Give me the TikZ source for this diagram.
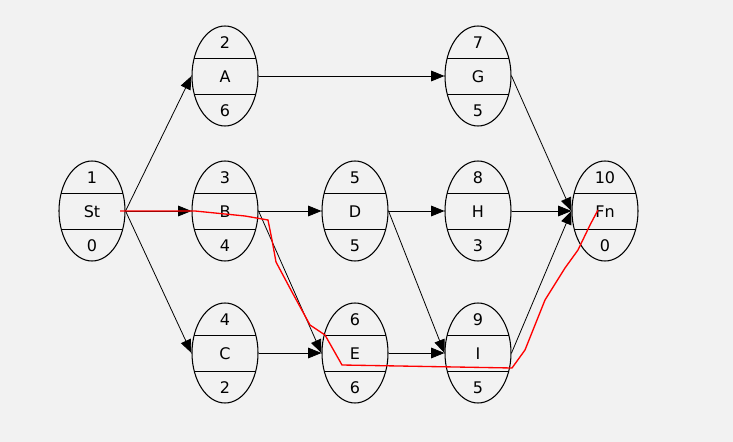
\documentclass[tikz,border=0pt]{standalone}
\usepackage{fontspec}
\setmainfont{DejaVu Sans}
\usetikzlibrary{shapes.geometric,arrows.meta,calc}
\newcommand\pnd[5]{%
  \node[pn] (#1) at (#2) {};
  \draw ($(#1)+(-30.8,-18)$) -- ($(#1)+(30.8,-18)$);
  \draw ($(#1)+(-30.8,18)$) -- ($(#1)+(30.8,18)$);
  \node[lab] at ($(#1)+(0,-33)$) {#3};
  \node[lab] at ($(#1)+(0,1)$) {#4};
  \node[lab] at ($(#1)+(0,35)$) {#5};}
\begin{document}
\begin{tikzpicture}[x=0.75pt,y=-0.75pt,
  pn/.style={ellipse,draw,line width=0.8pt,minimum width=49.5pt,minimum height=75pt,inner sep=0pt},
  lab/.style={font=\large,inner sep=0pt},
  ar/.style={-{Triangle[length=10pt,width=8pt]},line width=0.6pt}]
\fill[black!5] (0,0) rectangle (733,442);
\useasboundingbox (0,0) rectangle (733,442);
\pnd{St}{92,211}{1}{St}{0}
\pnd{A}{225,76}{2}{A}{6}
\pnd{B}{225,211}{3}{B}{4}
\pnd{C}{225,353}{4}{C}{2}
\pnd{D}{355,211}{5}{D}{5}
\pnd{E}{355,353}{6}{E}{6}
\pnd{G}{478,76}{7}{G}{5}
\pnd{H}{478,211}{8}{H}{3}
\pnd{I}{478,353}{9}{I}{5}
\pnd{Fn}{605,211}{10}{Fn}{0}
\draw[ar] (St.east) -- (A.west);
\draw[ar] (St.east) -- (B.west);
\draw[ar] (St.east) -- (C.west);
\draw[ar] (A.east) -- (G.west);
\draw[ar] (B.east) -- (D.west);
\draw[ar] (B.east) -- (E.west);
\draw[ar] (C.east) -- (E.west);
\draw[ar] (D.east) -- (H.west);
\draw[ar] (D.east) -- (I.west);
\draw[ar] (E.east) -- (I.west);
\draw[ar] (G.east) -- (Fn.west);
\draw[ar] (H.east) -- (Fn.west);
\draw[ar] (I.east) -- (Fn.west);
\draw[red,line width=1pt] (120,211) -- (195,211) -- (215,213) -- (245,216) -- (268,220) -- (272,240) -- (276,262) -- (292,292) -- (310,325) -- (325,335) -- (342,365) -- (512,368) -- (525,350) -- (545,300) -- (565,268) -- (578,250) -- (590,225) -- (598,210);
\end{tikzpicture}
\end{document}
